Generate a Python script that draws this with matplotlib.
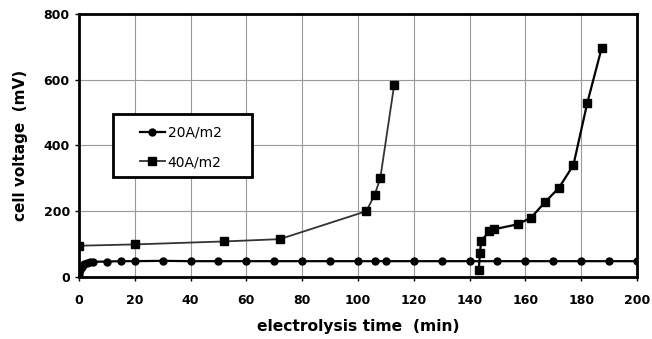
import numpy as np
import matplotlib
matplotlib.use('Agg')
import matplotlib.pyplot as plt
from matplotlib.patches import Rectangle

plt.rcParams['font.family'] = ['DejaVu Sans']

# ===== data =====
t20 = [0, 0.5, 1, 2, 3, 4, 5, 10, 15, 20, 30, 40, 50, 60, 70, 80, 90, 100,
       106, 110, 120, 130, 140, 150, 160, 170, 180, 190, 200]
v20 = [10, 20, 30, 38, 42, 45, 46, 47, 48, 48, 49, 48, 48, 48, 48, 48, 48, 48,
       48, 48, 48, 48, 48, 48, 48, 48, 48, 48, 48]

t40a = [0, 20, 52, 72, 103, 106, 108, 113]
v40a = [95, 99, 108, 115, 200, 250, 300, 585]

t40b = [143.3, 143.7, 144.2, 147.1, 148.7, 157.2, 162, 167.1, 172, 177.2, 182.2, 187.3]
v40b = [22, 74, 110, 139, 145, 160, 180, 228, 271, 340, 530, 695]

xticks = np.arange(0, 201, 20)
yticks = np.arange(0, 801, 200)

# ===== draw =====
fig = plt.figure(figsize=(6.52, 3.39), dpi=100)
ax = fig.add_axes([0.121, 0.183, 0.856, 0.776])

l20, = ax.plot(t20, v20, color='black', lw=1.6, marker='o', ms=5, zorder=3)
l40, = ax.plot(t40a, v40a, color='#333333', lw=1.3, marker='s', ms=6,
               mfc='black', mec='black', zorder=3)
ax.plot(t40b, v40b, color='black', lw=1.6, marker='s', ms=6, zorder=3)

ax.set_xlim(0, 200)
ax.set_ylim(0, 800)
ax.set_xticks(xticks)
ax.set_yticks(yticks)
ax.grid(True, color='#999999', lw=0.8)
ax.set_axisbelow(True)
for s in ax.spines.values():
    s.set_linewidth(2)
ax.tick_params(direction='out', length=3, width=1, labelsize=9)
ax.tick_params(axis='x', pad=9)
for lab in ax.get_xticklabels() + ax.get_yticklabels():
    lab.set_fontweight('bold')

ax.set_xlabel('electrolysis time  (min)', fontsize=11.2, fontweight='bold', labelpad=9)
ax.set_ylabel('cell voltage  (mV)', fontsize=11, fontweight='bold', labelpad=11)

# legend box
box = Rectangle((0.0604, 0.380), 0.249, 0.240, transform=ax.transAxes,
                facecolor='white', edgecolor='black', lw=2, zorder=4)
ax.add_patch(box)
leg = ax.legend([l20, l40], ['20A/m2', '40A/m2'], loc='center left',
                bbox_to_anchor=(0.109, 0.492), borderaxespad=0, borderpad=0,
                frameon=False, fontsize=10, handlelength=1.8, handletextpad=0.2,
                labelspacing=1.1)
leg.set_zorder(5)

fig.savefig('out.png', dpi=100)
